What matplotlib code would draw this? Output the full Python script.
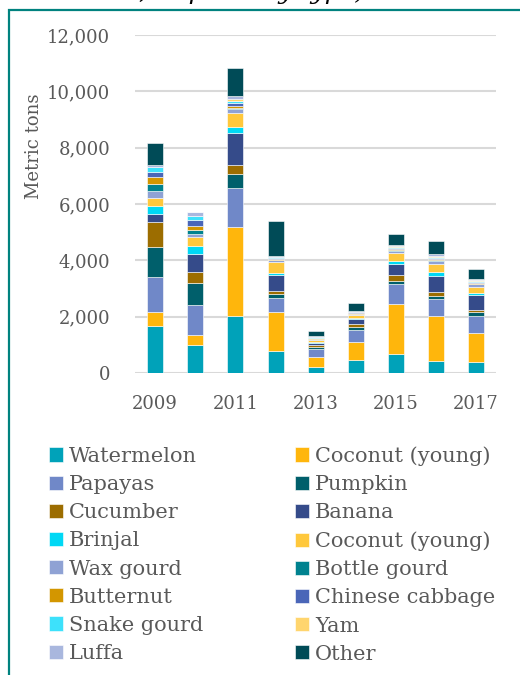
import matplotlib.pyplot as plt
import matplotlib.patches as mpatches
import numpy as np

# years on the x axis, only the odd ones get a label
years = [2009, 2010, 2011, 2012, 2013, 2014, 2015, 2016, 2017]
year_labels = ["2009", "", "2011", "", "2013", "", "2015", "", "2017"]

# stacking order, bottom to top
names = ["Watermelon", "Coconut (young)", "Papayas", "Pumpkin", "Cucumber", "Banana",
         "Brinjal", "Coconut (young)", "Wax gourd", "Bottle gourd", "Butternut",
         "Chinese cabbage", "Snake gourd", "Yam", "Luffa", "Other"]
colors = ["#00A2B9", "#FFB60C", "#7088C8", "#005F6B", "#9C6D00", "#354B8A",
          "#00D8F5", "#FFC83C", "#8FA2D4", "#00828F", "#D39600",
          "#4A66B8", "#3DE1FB", "#FFD56E", "#A9B7DE", "#004B57"]

# metric tons per year (2009..2017)
watermelon = [1670, 1000, 2035, 790, 210, 460, 660, 425, 400]
coconut = [500, 340, 3160, 1390, 360, 630, 1790, 1600, 1030]
papayas = [1230, 1080, 1385, 480, 300, 435, 710, 600, 605]
pumpkin = [1080, 780, 475, 135, 70, 95, 120, 120, 120]
cucumber = [870, 400, 330, 125, 60, 120, 200, 140, 80]
banana = [280, 620, 1125, 545, 80, 165, 390, 570, 535]
brinjal = [300, 285, 235, 95, 20, 35, 105, 145, 60]
coconut2 = [270, 330, 485, 390, 60, 120, 275, 260, 235]
wax_gourd = [260, 90, 130, 60, 30, 30, 90, 130, 90]
bottle_gourd = [240, 170, 60, 20, 20, 20, 20, 20, 20]
butternut = [250, 120, 70, 20, 20, 20, 30, 30, 30]
chinese_cabbage = [200, 210, 85, 30, 30, 30, 40, 50, 40]
snake_gourd = [150, 140, 80, 30, 10, 10, 40, 30, 20]
yam = [20, 0, 70, 20, 10, 10, 40, 50, 40]
luffa = [80, 170, 105, 30, 30, 30, 35, 55, 30]
other = [780, 0, 985, 1255, 180, 265, 375, 475, 370]

series = [watermelon, coconut, papayas, pumpkin, cucumber, banana, brinjal, coconut2,
          wax_gourd, bottle_gourd, butternut, chinese_cabbage, snake_gourd, yam, luffa, other]

text_color = "#595959"
plt.rcParams['font.family'] = ['DejaVu Serif']

figure = plt.figure(figsize=(5.2, 6.75), dpi=100)
ax = figure.add_axes([0.26, 0.4474, 0.694, 0.5006])

x = np.arange(len(years))
bottom = np.zeros(len(years))
handles = []
for name, values, color in zip(names, series, colors):
	bars = ax.bar(x, values, 0.4, bottom=bottom, color=color, edgecolor="white", linewidth=0.4, label=name, zorder=3)
	bottom += np.array(values)
	handles.append(bars)

ax.set_xlim(-0.5, 8.5)
ax.set_ylim(0, 12000)
ax.set_yticks(np.arange(0, 12001, 2000))
ax.set_yticklabels(["{:,}".format(v) for v in range(0, 12001, 2000)])
ax.set_xticks(x)
ax.set_xticklabels(year_labels)
ax.tick_params(length=0, labelsize=13, colors=text_color)
ax.tick_params(axis="y", pad=18)
ax.tick_params(axis="x", pad=16)
ax.grid(axis="y", color="#D9D9D9", linewidth=1.5, zorder=0)
for spine in ax.spines.values():
	spine.set_visible(False)
ax.set_ylabel("Metric tons", fontsize=13, color=text_color)
ax.yaxis.set_label_coords(-0.256, 0.67)

# legend is read row by row, matplotlib fills column by column
order = list(range(0, 16, 2)) + list(range(1, 16, 2))
figure.legend([handles[i] for i in order], [names[i] for i in order], ncol=2,
	loc="upper left", bbox_to_anchor=(0.094, 0.339), frameon=False, fontsize=15,
	labelcolor=text_color, handlelength=0.67, handleheight=0.67, handletextpad=0.29,
	labelspacing=0.44, columnspacing=4.4, borderaxespad=0, borderpad=0)

# frame around the chart and the cut-off caption above it
figure.patches.append(mpatches.Rectangle((9 / 520, -0.05), 1.2, 0.985 + 0.05, transform=figure.transFigure,
	fill=False, edgecolor="#00827F", linewidth=1.6))
figure.text(0.06, 1.001, "Table 30, Imports by type)", fontsize=18, style="italic", va="baseline", color="black")

plt.savefig("out.png", dpi=100)
plt.close(figure)
